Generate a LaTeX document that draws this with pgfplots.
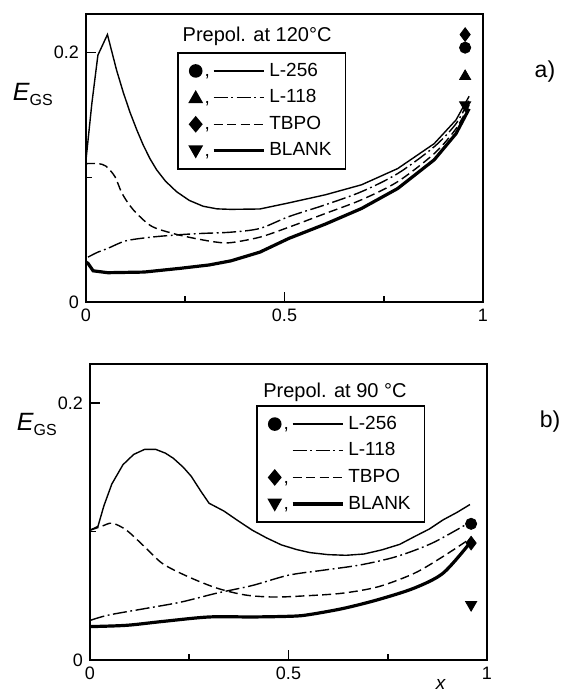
\documentclass[border=0pt]{standalone}
\usepackage{fontspec}
\setmainfont{Liberation Sans}
\usepackage{pgfplots}
\pgfplotsset{compat=1.18}

\tikzset{
  l256/.style={black, line width=0.7pt},
  l118/.style={black, line width=0.7pt, dash pattern=on 7pt off 1.8pt on 0.9pt off 1.8pt},
  tbpo/.style={black, line width=0.7pt, dash pattern=on 4.5pt off 2.2pt},
  blank/.style={black, line width=1.6pt},
}

\pgfplotsset{
  panel/.style={
    scale only axis, width=198.5pt,
    xmin=0, xmax=1, ymin=0,
    clip=false,
    axis line style={line width=1.1pt},
    xtick={0,0.5,1}, minor xtick={0.25,0.75},
    ytick={0,0.2}, minor ytick={0.1},
    xticklabels={0,0.5,1}, yticklabels={0,0.2},
    xtick pos=bottom, ytick pos=left,
    tick align=inside, major tick length=5pt, minor tick length=3pt,
    every tick/.style={black, line width=0.8pt},
    tick label style={font=\fontsize{9}{10}\selectfont},
    /pgf/number format/assume math mode=true,
    legend style={draw=black, line width=0.8pt, anchor=north west,
      font=\fontsize{9.5}{11}\selectfont,
      inner xsep=5pt, inner ysep=3pt, row sep=1.2pt},
    legend cell align=left,
  },
}

% legend picture: marker, comma, line sample
\newcommand{\legimg}[2]{%
  \addlegendimage{legend image code/.code={%
    \path[draw=none, fill=none] (-4pt,-4pt) rectangle (34pt,4pt);
    #1
    \draw[#2] (9pt,0pt) -- (34pt,0pt);
  }}%
}
\newcommand{\lcomma}{\node[draw=none, inner sep=0pt, anchor=base west] at (4pt,-2.8pt) {,};}
\newcommand{\mcirc}{\fill[draw=none] (0,0) circle (3.4pt); \lcomma}
\newcommand{\mtri}{\fill[draw=none] (0,3.8pt) -- (-3.7pt,-2.7pt) -- (3.7pt,-2.7pt) -- cycle; \lcomma}
\newcommand{\mdia}{\fill[draw=none] (0,4.2pt) -- (3.5pt,0) -- (0,-4.2pt) -- (-3.5pt,0) -- cycle; \lcomma}
\newcommand{\mdown}{\fill[draw=none] (0,-3.8pt) -- (-3.7pt,2.7pt) -- (3.7pt,2.7pt) -- cycle; \lcomma}

\newcommand{\egs}{{\fontsize{12.5}{14}\selectfont\textit{E}}\raisebox{-2.5pt}{\fontsize{8}{9}\selectfont GS}}

\begin{document}
\begin{tikzpicture}
\useasboundingbox (0,0) rectangle (282.5pt,345.5pt);

% ---------------- a) prepolymerised at 120 C
\begin{axis}[panel, at={(43pt,194.5pt)}, anchor=south west,
  height=144pt, ymax=0.231,
  legend style={at={(0.229,0.868)}}]
\legimg{\mcirc}{l256}
\legimg{\mtri}{l118}
\legimg{\mdia}{tbpo}
\legimg{\mdown}{blank}

\addplot[l256, forget plot] coordinates {
 (0,0.114) (0.015,0.16) (0.03,0.198) (0.054,0.2145) (0.077,0.186)
 (0.094,0.168) (0.111,0.152) (0.128,0.138) (0.144,0.126) (0.161,0.115)
 (0.178,0.106) (0.2,0.097) (0.228,0.0885) (0.26,0.0815) (0.295,0.0768)
 (0.33,0.0747) (0.365,0.0743) (0.438,0.0746) (0.511,0.0795) (0.603,0.086)
 (0.694,0.094) (0.785,0.107) (0.877,0.127) (0.932,0.146) (0.965,0.165)};
\addplot[l118, smooth, forget plot] coordinates {
 (0.005,0.036) (0.03,0.04) (0.055,0.043) (0.1,0.049) (0.164,0.052)
 (0.237,0.054) (0.292,0.055) (0.365,0.056) (0.438,0.059) (0.511,0.0685)
 (0.603,0.078) (0.694,0.0885) (0.785,0.103) (0.877,0.1245) (0.932,0.143)
 (0.965,0.162)};
\addplot[tbpo, smooth, forget plot] coordinates {
 (0,0.111) (0.03,0.111) (0.05,0.109) (0.073,0.1005) (0.091,0.087)
 (0.119,0.074) (0.164,0.061) (0.219,0.055) (0.274,0.051) (0.329,0.048)
 (0.365,0.0476) (0.438,0.052) (0.511,0.060) (0.603,0.071) (0.694,0.082)
 (0.785,0.0965) (0.877,0.119) (0.932,0.139) (0.965,0.158)};
\addplot[blank, forget plot] coordinates {
 (0,0.032) (0.005,0.031) (0.018,0.025) (0.055,0.0235) (0.146,0.024)
 (0.237,0.027) (0.31,0.0297) (0.365,0.033) (0.438,0.040) (0.511,0.051)
 (0.603,0.0625) (0.694,0.075) (0.785,0.091) (0.877,0.114) (0.932,0.135)
 (0.965,0.155)};

\addplot[only marks, mark=*, mark size=2.8pt, forget plot] coordinates {(0.955,0.204)};
\addplot[only marks, mark=triangle*, mark size=3.2pt, forget plot] coordinates {(0.955,0.181)};
\addplot[only marks, mark=diamond*, mark size=3.4pt, forget plot] coordinates {(0.955,0.2145)};
\addplot[only marks, mark=triangle*, mark size=3.2pt, mark options={rotate=180}, forget plot] coordinates {(0.955,0.158)};

\legend{L-256, L-118, TBPO, BLANK}

\node[font=\fontsize{10}{12}\selectfont] at (axis description cs:0.431,0.924) {Prepol. at 120°C};
\node at (axis description cs:-0.134,0.719) {\egs};
\node[font=\fontsize{11.5}{13}\selectfont] at (axis description cs:1.156,0.80) {a)};
\end{axis}

% ---------------- b) prepolymerised at 90 C
\begin{axis}[panel, at={(45pt,15.5pt)}, anchor=south west,
  height=148pt, ymax=0.2304,
  legend style={at={(0.418,0.861)}}]
\legimg{\mcirc}{l256}
\legimg{}{l118}
\legimg{\mdia}{tbpo}
\legimg{\mdown}{blank}

\addplot[l256, forget plot] coordinates {
 (0,0.101) (0.02,0.104) (0.035,0.12) (0.055,0.137) (0.083,0.152)
 (0.11,0.16) (0.138,0.164) (0.165,0.164) (0.19,0.161) (0.21,0.157)
 (0.235,0.15) (0.255,0.143) (0.28,0.131) (0.30,0.122) (0.337,0.116)
 (0.37,0.109) (0.409,0.101) (0.445,0.095) (0.482,0.0896) (0.52,0.086)
 (0.554,0.0836) (0.6,0.082) (0.645,0.0815) (0.69,0.0825) (0.735,0.0857)
 (0.78,0.09) (0.817,0.096) (0.855,0.102) (0.889,0.109) (0.925,0.115)
 (0.957,0.121)};
\addplot[l118, smooth, forget plot] coordinates {
 (0.002,0.031) (0.047,0.035) (0.138,0.040) (0.228,0.045) (0.319,0.052)
 (0.409,0.058) (0.5,0.066) (0.59,0.070) (0.681,0.074) (0.772,0.0805)
 (0.862,0.091) (0.953,0.1065)};
\addplot[tbpo, smooth, forget plot] coordinates {
 (0,0.101) (0.029,0.104) (0.056,0.1065) (0.092,0.101) (0.138,0.088)
 (0.183,0.075) (0.246,0.065) (0.319,0.056) (0.391,0.0506) (0.464,0.049)
 (0.545,0.050) (0.636,0.052) (0.726,0.057) (0.817,0.0675) (0.889,0.0805)
 (0.953,0.0935)};
\addplot[blank, smooth, forget plot] coordinates {
 (0,0.026) (0.092,0.027) (0.183,0.030) (0.30,0.0335) (0.409,0.0335)
 (0.5,0.034) (0.545,0.035) (0.636,0.040) (0.726,0.047) (0.817,0.056)
 (0.889,0.0675) (0.953,0.0896)};

\addplot[only marks, mark=*, mark size=2.8pt, forget plot] coordinates {(0.96,0.106)};
\addplot[only marks, mark=diamond*, mark size=3.4pt, forget plot] coordinates {(0.96,0.091)};
\addplot[only marks, mark=triangle*, mark size=3.2pt, mark options={rotate=180}, forget plot] coordinates {(0.96,0.043)};

\legend{L-256, L-118, TBPO, BLANK}

\node[font=\fontsize{10}{12}\selectfont] at (axis description cs:0.617,0.905) {Prepol. at 90 °C};
\node at (axis description cs:-0.134,0.797) {\egs};
\node[font=\fontsize{11.5}{13}\selectfont] at (axis description cs:1.159,0.807) {b)};
\node[font=\fontsize{9.5}{11}\selectfont, inner sep=0pt] at (axis description cs:0.884,-0.082) {\textit{x}};
\end{axis}
\end{tikzpicture}
\end{document}
